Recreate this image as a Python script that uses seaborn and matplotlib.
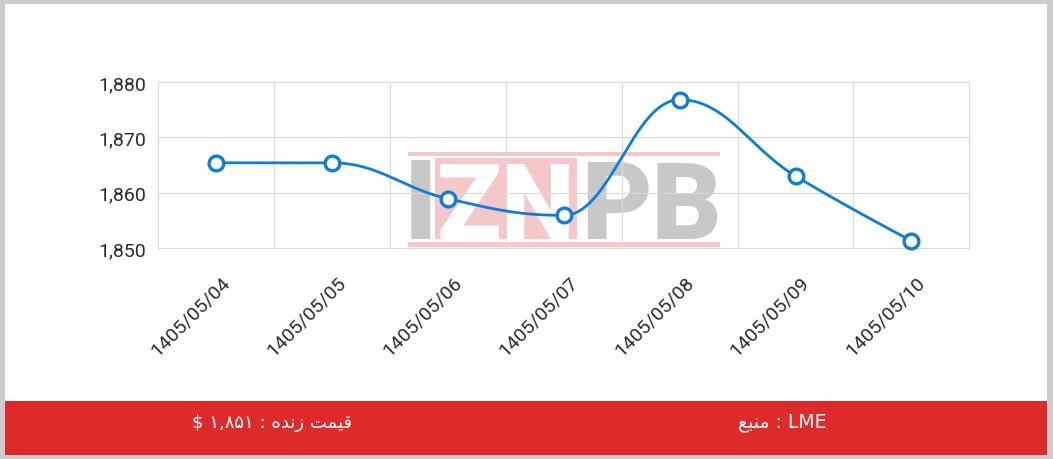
import numpy as np
import pandas as pd
import matplotlib
matplotlib.use("Agg")
import matplotlib.pyplot as plt
import seaborn as sns
from matplotlib.patches import Rectangle
from matplotlib.ticker import FixedLocator, FuncFormatter
from matplotlib.transforms import ScaledTranslation

# ---------------- data ----------------
dates = ["1405/05/04", "1405/05/05", "1405/05/06", "1405/05/07",
         "1405/05/08", "1405/05/09", "1405/05/10"]
prices = [1865.4, 1865.4, 1858.9, 1855.9, 1876.8, 1863.0, 1851.3]
y_ticks = [1850, 1860, 1870, 1880]
y_limits = [1850, 1880]
# footer texts (visual order, Arabic presentation forms so they render joined)
footer_live = "$ \u06F1,\u06F8\u06F5\u06F1 : \uFEE9\uFEAA\uFEE7\uFEAF \uFE96\uFEE4\uFEF4\uFED7"   # قیمت زنده : ۱,۸۵۱ $
footer_source = "\uFECA\uFE92\uFEE8\uFEE3 : LME"                                                # منبع : LME
watermark_parts = ["I", "ZN", "PB"]

# ---------------- style ----------------
W, H = 1053, 460
sns.set_theme(style="white")
plt.rcParams['font.family'] = ['Roboto', 'DejaVu Sans']

LINE = "#0f7dd8"
GRID = "#d9d9d9"
RED = "#de2a2a"
TXT = "#2b2b2b"

fig = plt.figure(figsize=(W / 100, H / 100), dpi=100, facecolor="#cdcdcd")


def fx(px):
    return px / W


def fy(py):
    return 1 - py / H


def frect(x0, y0, x1, y1, **kw):
    return Rectangle((fx(x0), fy(y1)), (x1 - x0) / W, (y1 - y0) / H,
                     transform=fig.transFigure, **kw)


# white panel and red footer band
fig.patches.append(frect(5, 5, 1047, 456, facecolor="white", edgecolor="none", zorder=-3))
fig.patches.append(frect(5, 402, 1047, 456, facecolor=RED, edgecolor="none", zorder=-2))

ax = fig.add_axes([fx(158.3), fy(249), (969.3 - 158.3) / W, (249 - 83) / H])
ax.set_facecolor("none")

# ---------------- watermark (behind grid) ----------------
wm_pink = "#f4c8c8"
wm_gray = "#c8c8c8"
for r in [frect(408, 153, 720, 157), frect(408, 243, 720, 248), frect(435, 159, 577, 240)]:
    r.set_facecolor(wm_pink)
    r.set_edgecolor("none")
    r.set_zorder(0.1)
    r.set_clip_on(False)
    ax.add_artist(r)
wm_font = ['Roboto', 'DejaVu Sans']
for txt, xc, col, fs in zip(watermark_parts, [421, 506, 651], [wm_gray, "white", wm_gray],
                            [80, 76, 78]):
    ax.text(fx(xc), fy(239), txt, transform=fig.transFigure, ha="center", va="baseline",
            fontsize=fs, fontweight="black", family=wm_font, color=col, zorder=0.2,
            clip_on=False)

# ---------------- spline (Highcharts-style) ----------------
xs = np.arange(len(prices), dtype=float)
ys = np.array(prices, dtype=float)
n = len(xs)
sm = 1.5
den = sm + 1
lc = [None] * n
rc = [None] * n
for i in range(1, n - 1):
    px_, py_ = xs[i - 1], ys[i - 1]
    nx_, ny_ = xs[i + 1], ys[i + 1]
    x, y = xs[i], ys[i]
    lcx = (sm * x + px_) / den
    lcy = (sm * y + py_) / den
    rcx = (sm * x + nx_) / den
    rcy = (sm * y + ny_) / den
    corr = 0.0
    if rcx != lcx:
        corr = ((rcy - lcy) * (rcx - x)) / (rcx - lcx) + y - rcy
    lcy += corr
    rcy += corr
    if lcy > py_ and lcy > y:
        lcy = max(py_, y)
        rcy = 2 * y - lcy
    elif lcy < py_ and lcy < y:
        lcy = min(py_, y)
        rcy = 2 * y - lcy
    if rcy > ny_ and rcy > y:
        rcy = max(ny_, y)
        lcy = 2 * y - rcy
    elif rcy < ny_ and rcy < y:
        rcy = min(ny_, y)
        lcy = 2 * y - rcy
    lc[i] = (lcx, lcy)
    rc[i] = (rcx, rcy)

cx, cy = [], []
t = np.linspace(0, 1, 80)
for i in range(1, n):
    p0 = np.array([xs[i - 1], ys[i - 1]])
    p3 = np.array([xs[i], ys[i]])
    p1 = np.array(rc[i - 1]) if rc[i - 1] is not None else p0
    p2 = np.array(lc[i]) if lc[i] is not None else p3
    b = ((1 - t) ** 3)[:, None] * p0 + (3 * (1 - t) ** 2 * t)[:, None] * p1 \
        + (3 * (1 - t) * t ** 2)[:, None] * p2 + (t ** 3)[:, None] * p3
    cx.extend(b[:, 0])
    cy.extend(b[:, 1])
curve = pd.DataFrame({"x": cx, "y": cy})
pts = pd.DataFrame({"x": xs, "y": ys})

sns.lineplot(data=curve, x="x", y="y", sort=False, estimator=None, color=LINE,
             linewidth=2.0, ax=ax, zorder=3)
sns.scatterplot(data=pts, x="x", y="y", ax=ax, s=112, color="white",
                edgecolor=LINE, linewidth=2.4, zorder=4, clip_on=False)

# ---------------- axes ----------------
ax.set_xlim(-0.5, n - 0.5)
ax.set_ylim(*y_limits)
ax.yaxis.set_major_locator(FixedLocator(y_ticks))
ax.yaxis.set_major_formatter(FuncFormatter(lambda v, p: f"{v:,.0f}"))
ax.set_xticks(xs)
ax.set_xticks(np.arange(-0.5, n, 1.0), minor=True)
ax.set_xticklabels(dates, rotation=45, ha="right", va="center", rotation_mode="anchor")
ax.grid(axis="y", which="major", color=GRID, linewidth=0.8, zorder=0.5)
ax.grid(axis="x", which="minor", color=GRID, linewidth=0.8, zorder=0.5)
ax.grid(axis="x", which="major", visible=False)
ax.set_axisbelow(True)
for gl in ax.get_ygridlines():
    gl.set_clip_on(False)
for tk in ax.xaxis.get_minor_ticks():
    tk.gridline.set_clip_on(False)
for s in ax.spines.values():
    s.set_visible(False)
ax.tick_params(axis="both", which="both", length=0)
ax.tick_params(axis="y", labelsize=14, labelcolor=TXT, pad=9)
ax.tick_params(axis="x", labelsize=14, labelcolor=TXT, pad=0)
ax.set_xlabel("")
ax.set_ylabel("")
off = ScaledTranslation(11 / 100, -31 / 100, fig.dpi_scale_trans)
for lab in ax.get_xticklabels():
    lab.set_transform(lab.get_transform() + off)

# ---------------- footer ----------------
fig.text(fx(272), fy(423), footer_live, color="white", fontsize=13, ha="center",
         va="center", family=["DejaVu Sans"])
fig.text(fx(782), fy(423), footer_source, color="white", fontsize=13.5, ha="center",
         va="center", family=["DejaVu Sans"])

fig.savefig("out.png", dpi=100, facecolor=fig.get_facecolor())
